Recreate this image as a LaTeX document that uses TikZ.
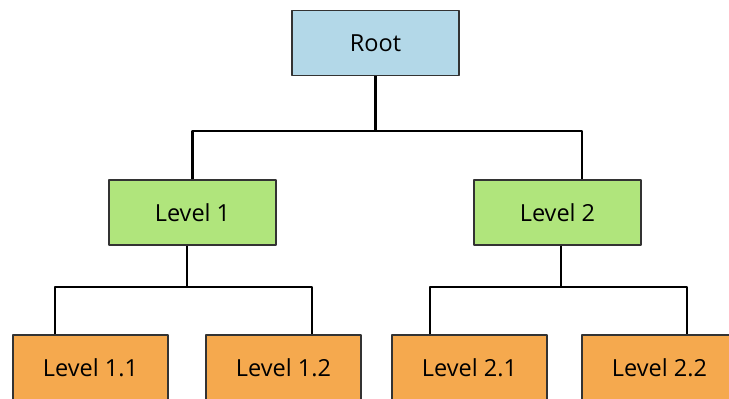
\documentclass[tikz,border=0pt]{standalone}
\usepackage{fontspec}
\setmainfont{Open Sans}
\definecolor{rootblue}{HTML}{B3D8E8}
\definecolor{lvlgreen}{HTML}{B0E57C}
\definecolor{leaforange}{HTML}{F5A94E}
\begin{document}
\begin{tikzpicture}[x=1pt,y=-1pt,line join=round,line cap=round,font=\fontsize{23.5}{27}\selectfont]
\tikzset{box/.style={draw=black!80,line width=1.3pt,minimum width=167pt,minimum height=65pt,inner sep=0pt},
  rootbox/.style={box,fill=rootblue},
  lvlbox/.style={box,fill=lvlgreen},
  leafbox/.style={box,fill=leaforange,minimum width=155pt},
  link/.style={draw=black,line width=2.6pt,line cap=butt}}
\useasboundingbox (0,0) rectangle (729,399);
\clip (0,0) rectangle (729,399);
% boxes
\node[rootbox] (root) at (375.5,43) {Root};
\node[lvlbox] (l1) at (192.5,212.5) {Level 1};
\node[lvlbox] (l2) at (557.5,212.5) {Level 2};
\node[leafbox] (l11) at (90.5,367.5) {Level 1.1};
\node[leafbox] (l12) at (283.5,367.5) {Level 1.2};
\node[leafbox] (l21) at (469.5,367.5) {Level 2.1};
\node[leafbox] (l22) at (659.5,367.5) {Level 2.2};
% junctions
\coordinate (j0) at (375.5,131);
\coordinate (j1) at (187,287);
\coordinate (j2) at (561,287);
% links
\draw[link] (root.south) -- (j0);
\draw[link] (l1.north) |- (j0) -| ([xshift=24.5pt]l2.north);
\draw[link] ([xshift=-5.5pt]l1.south) -- (j1);
\draw[link] ([xshift=3.5pt]l2.south) -- (j2);
\draw[link] ([xshift=-35.5pt]l11.north) |- (j1) -| ([xshift=28.5pt]l12.north);
\draw[link] ([xshift=-39.5pt]l21.north) |- (j2) -| ([xshift=27.5pt]l22.north);
\end{tikzpicture}
\end{document}
